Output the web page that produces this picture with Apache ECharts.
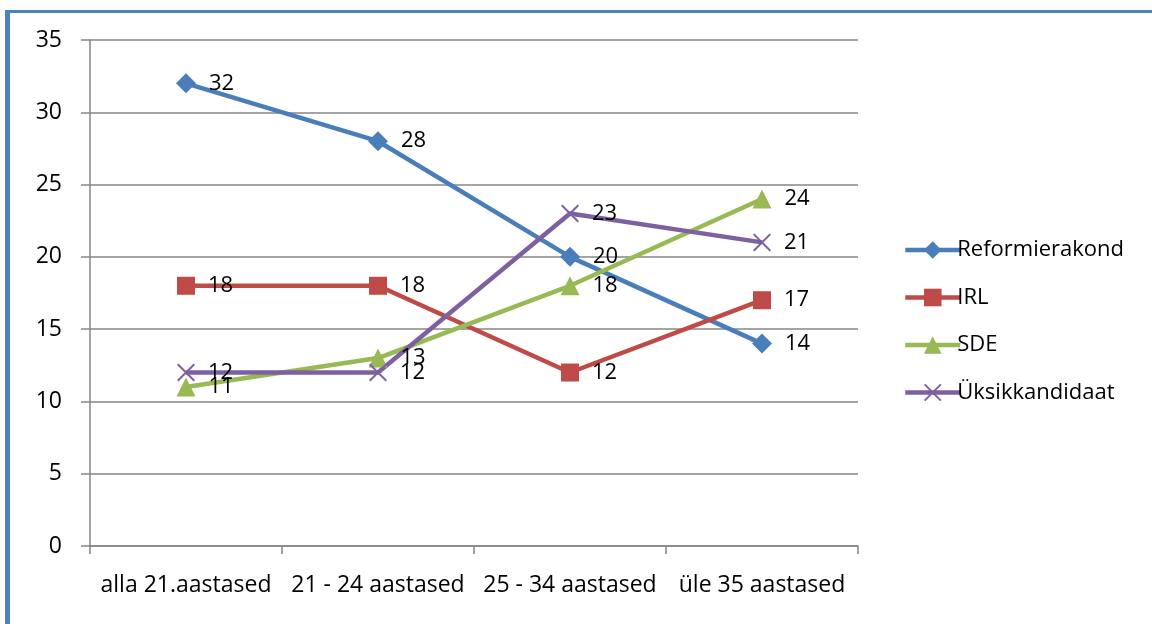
<!DOCTYPE html>
<html>
<head>
<meta charset="utf-8">
<script src="https://cdn.jsdelivr.net/npm/echarts@6/dist/echarts.min.js"></script>
<style>
  html, body { margin: 0; padding: 0; background: #fff; }
  #frame {
    position: absolute; left: 5px; top: 10px; right: 0; bottom: 0;
    border-top: 3px solid #4F81BD; border-left: 5px solid #4F81BD;
  }
  #chart { position: absolute; left: 0; top: 0; width: 1152px; height: 624px; }
</style>
</head>
<body>
<div id="frame"></div>
<div id="chart"></div>
<script>
// age groups
const categories = ['alla 21.aastased', '21 - 24 aastased', '25 - 34 aastased', 'üle 35 aastased'];
const reformValues = [32, 28, 20, 14];
const irlValues = [18, 18, 12, 17];
const sdeValues = [11, 13, 18, 24];
const singleValues = [12, 12, 23, 21];
const yTicks = { min: 0, max: 35, step: 5 };

const FONT = 'Open Sans';
const FONT_SIZE = 22;
const crossPath = 'path://M0,0.8L0.8,0L10,9.2L9.2,10ZM9.2,0L10,0.8L0.8,10L0,9.2Z';

function makeSeries(name, values, color, symbol, size) {
    return {
        name: name,
        type: 'line',
        data: values,
        symbol: symbol,
        symbolSize: size,
        lineStyle: { color: color, width: 4.5 },
        itemStyle: { color: color },
        label: {
            show: true,
            position: 'right',
            distance: 13,
            color: '#000',
            fontSize: FONT_SIZE,
            fontFamily: FONT
        },
        emphasis: { disabled: true }
    };
}

const chart = echarts.init(document.getElementById('chart'));
chart.setOption({
    animation: false,
    grid: { left: 90, right: 294, top: 40, bottom: 78 },
    legend: {
        orient: 'vertical',
        left: 898,
        top: 234,
        itemWidth: 55,
        itemHeight: 22,
        itemGap: 25.5,
        lineStyle: { width: 4.5 },
        textStyle: { fontSize: FONT_SIZE, fontFamily: FONT, color: '#000', padding: [0, 0, 0, -8] },
        data: ['Reformierakond', 'IRL', 'SDE', 'Üksikkandidaat']
    },
    xAxis: {
        type: 'category',
        data: categories,
        boundaryGap: true,
        axisLine: { lineStyle: { color: '#868686', width: 1.5 } },
        axisTick: { show: true, length: 8, lineStyle: { color: '#868686', width: 1.5 } },
        axisLabel: { color: '#000', fontSize: 23, fontFamily: FONT, margin: 28, interval: 0 },
        splitLine: { show: false }
    },
    yAxis: {
        type: 'value',
        min: yTicks.min,
        max: yTicks.max,
        interval: yTicks.step,
        axisLine: { show: true, lineStyle: { color: '#868686', width: 1.5 } },
        axisTick: { show: true, length: 9, lineStyle: { color: '#868686', width: 1.5 } },
        axisLabel: { color: '#000', fontSize: 23, fontFamily: FONT, margin: 28 },
        splitLine: { show: true, lineStyle: { color: '#868686', width: 1.5 } }
    },
    series: [
        makeSeries('Reformierakond', reformValues, '#4A7EBB', 'diamond', 20),
        makeSeries('IRL', irlValues, '#BE4B48', 'rect', 18),
        makeSeries('SDE', sdeValues, '#98B954', 'triangle', 19),
        makeSeries('Üksikkandidaat', singleValues, '#7D60A0', crossPath, 18)
    ]
});
</script>
</body>
</html>
